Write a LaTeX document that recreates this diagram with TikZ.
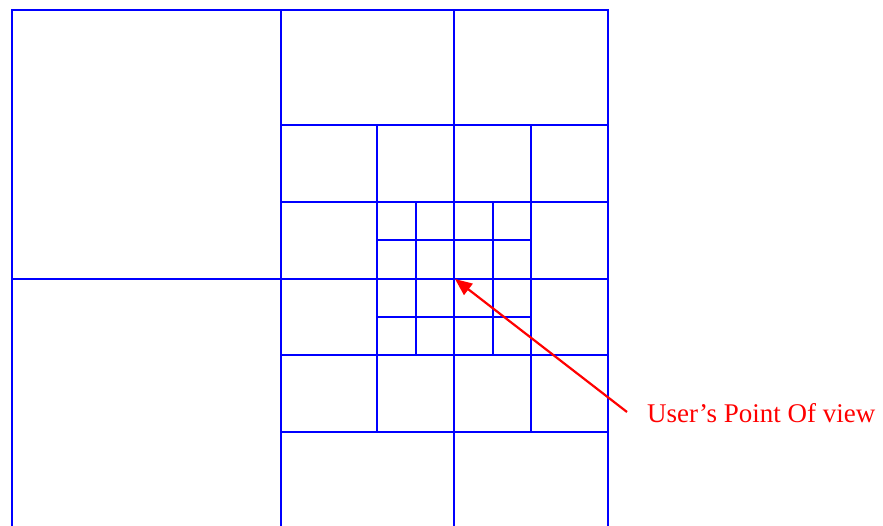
\documentclass[tikz,border=0pt]{standalone}
\usepackage{fontspec}
\setmainfont{Liberation Serif}
\usetikzlibrary{arrows.meta}
\definecolor{gridblue}{RGB}{0,0,255}
\definecolor{arrowred}{RGB}{255,0,0}
\tikzset{
  gridline/.style={draw=gridblue, line width=2pt},
  pointer/.style={draw=arrowred, line width=2.2pt, -{Triangle[length=17pt,width=14pt]}},
  labeltext/.style={text=arrowred, font=\fontsize{27}{30}\selectfont, inner sep=0pt, anchor=base west}
}
\begin{document}
\begin{tikzpicture}[x=1pt,y=-1pt]
\useasboundingbox (0,0) rectangle (883,526);
% outer frame (bottom cut off)
\draw[gridline] (12,530) -- (12,10) -- (608,10) -- (608,530);
% level 1
\draw[gridline] (281,10) -- (281,530);
\draw[gridline] (12,279) -- (608,279);
% level 2
\draw[gridline] (454,10) -- (454,530);
\draw[gridline] (281,125) -- (608,125);
\draw[gridline] (281,432) -- (608,432);
\draw[gridline] (281,202) -- (608,202);
\draw[gridline] (281,355) -- (608,355);
\draw[gridline] (377,125) -- (377,432);
\draw[gridline] (531,125) -- (531,432);
% level 3
\draw[gridline] (416,202) -- (416,355);
\draw[gridline] (493,202) -- (493,355);
\draw[gridline] (377,240) -- (531,240);
\draw[gridline] (377,317) -- (531,317);
% label and pointer
\node[labeltext] (lbl) at (647,422) {User’s Point Of view};
\coordinate (tail) at (627,412);
\coordinate (tip) at (455,279);
\draw[pointer] (tail) -- (tip);
\end{tikzpicture}
\end{document}
